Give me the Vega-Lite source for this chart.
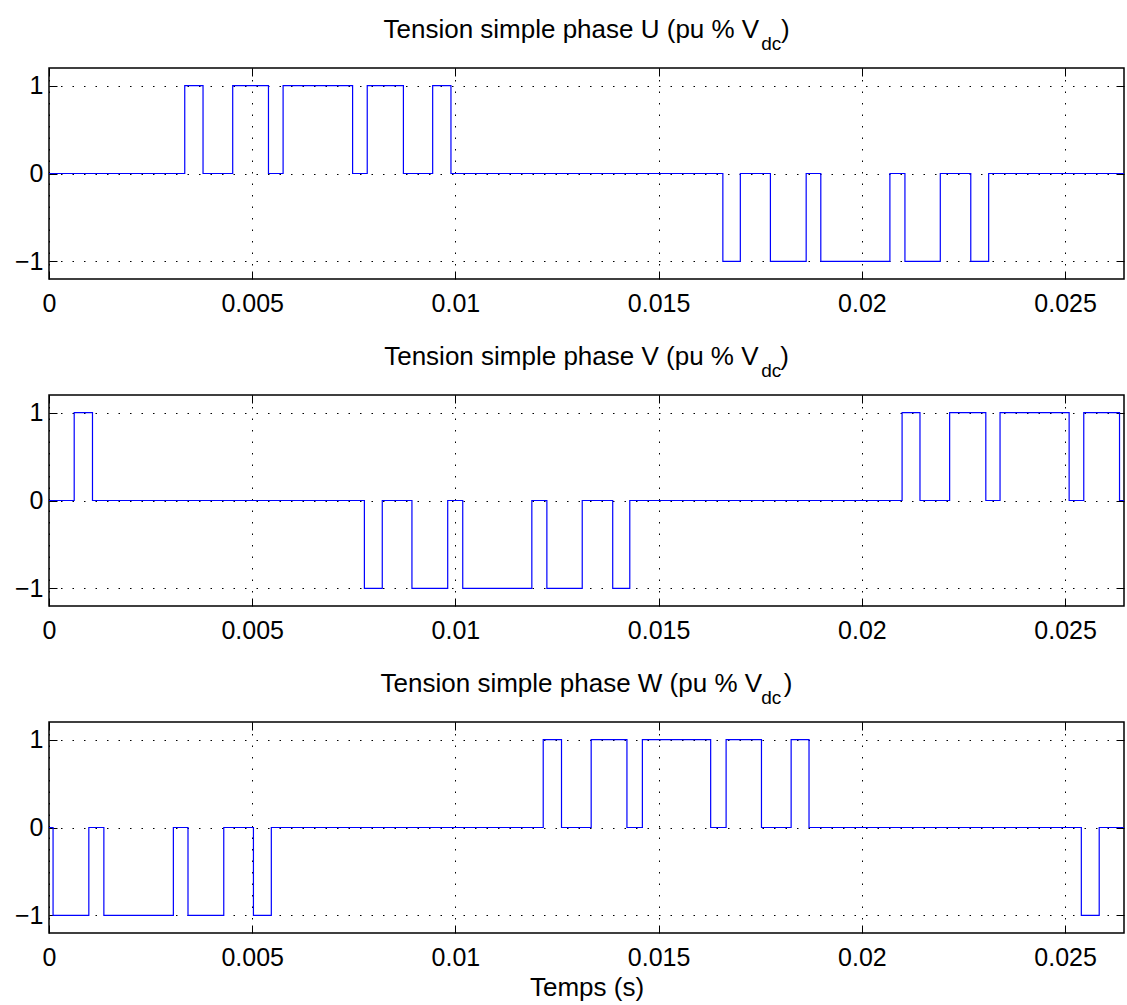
{
  "$schema": "https://vega.github.io/schema/vega-lite/v6.json",
  "background": "white",
  "padding": {"left": 13, "top": 15, "right": 5, "bottom": 5},
  "config": {
    "font": "Liberation Sans",
    "view": {"stroke": "#000", "strokeWidth": 1.5},
    "axis": {
      "domain": false,
      "tickColor": "#000",
      "tickSize": -8,
      "tickWidth": 1,
      "labelFont": "Liberation Sans",
      "labelFontSize": 25,
      "labelColor": "#000",
      "labelFlush": false,
      "labelOverlap": false,
      "gridColor": "#000",
      "gridDash": [1.5, 10],
      "gridWidth": 1,
      "gridOpacity": 1,
      "titleFont": "Liberation Sans",
      "titleFontSize": 26,
      "titleFontWeight": "normal",
      "titleColor": "#000"
    },
    "title": {
      "font": "Liberation Sans",
      "fontSize": 26,
      "fontWeight": "normal",
      "color": "#000",
      "subtitleFont": "Liberation Sans",
      "subtitleFontSize": 19,
      "subtitleColor": "#000",
      "subtitlePadding": -8,
      "frame": "group",
      "anchor": "middle",
      "offset": 14
    }
  },
  "data": {
    "values": [
      {"phase": "U", "t": 0, "v": 0},
      {"phase": "U", "t": 0.00334, "v": 1},
      {"phase": "U", "t": 0.00379, "v": 0},
      {"phase": "U", "t": 0.00452, "v": 1},
      {"phase": "U", "t": 0.0054, "v": 0},
      {"phase": "U", "t": 0.00576, "v": 1},
      {"phase": "U", "t": 0.00747, "v": 0},
      {"phase": "U", "t": 0.00783, "v": 1},
      {"phase": "U", "t": 0.00872, "v": 0},
      {"phase": "U", "t": 0.00944, "v": 1},
      {"phase": "U", "t": 0.00989, "v": 0},
      {"phase": "U", "t": 0.01658, "v": -1},
      {"phase": "U", "t": 0.01701, "v": 0},
      {"phase": "U", "t": 0.01775, "v": -1},
      {"phase": "U", "t": 0.01863, "v": 0},
      {"phase": "U", "t": 0.01899, "v": -1},
      {"phase": "U", "t": 0.02069, "v": 0},
      {"phase": "U", "t": 0.02106, "v": -1},
      {"phase": "U", "t": 0.02193, "v": 0},
      {"phase": "U", "t": 0.02268, "v": -1},
      {"phase": "U", "t": 0.02312, "v": 0},
      {"phase": "U", "t": 0.02645, "v": 0},
      {"phase": "V", "t": 0, "v": 0},
      {"phase": "V", "t": 0.00062, "v": 1},
      {"phase": "V", "t": 0.00107, "v": 0},
      {"phase": "V", "t": 0.00776, "v": -1},
      {"phase": "V", "t": 0.0082, "v": 0},
      {"phase": "V", "t": 0.00893, "v": -1},
      {"phase": "V", "t": 0.00981, "v": 0},
      {"phase": "V", "t": 0.01018, "v": -1},
      {"phase": "V", "t": 0.01188, "v": 0},
      {"phase": "V", "t": 0.01225, "v": -1},
      {"phase": "V", "t": 0.01312, "v": 0},
      {"phase": "V", "t": 0.01387, "v": -1},
      {"phase": "V", "t": 0.01429, "v": 0},
      {"phase": "V", "t": 0.02099, "v": 1},
      {"phase": "V", "t": 0.02143, "v": 0},
      {"phase": "V", "t": 0.02216, "v": 1},
      {"phase": "V", "t": 0.02305, "v": 0},
      {"phase": "V", "t": 0.0234, "v": 1},
      {"phase": "V", "t": 0.0251, "v": 0},
      {"phase": "V", "t": 0.02546, "v": 1},
      {"phase": "V", "t": 0.02634, "v": 0},
      {"phase": "V", "t": 0.02645, "v": 0},
      {"phase": "W", "t": 0, "v": 0},
      {"phase": "W", "t": 0.0001, "v": -1},
      {"phase": "W", "t": 0.00098, "v": 0},
      {"phase": "W", "t": 0.00135, "v": -1},
      {"phase": "W", "t": 0.00306, "v": 0},
      {"phase": "W", "t": 0.00342, "v": -1},
      {"phase": "W", "t": 0.0043, "v": 0},
      {"phase": "W", "t": 0.00503, "v": -1},
      {"phase": "W", "t": 0.00547, "v": 0},
      {"phase": "W", "t": 0.01216, "v": 1},
      {"phase": "W", "t": 0.01261, "v": 0},
      {"phase": "W", "t": 0.01334, "v": 1},
      {"phase": "W", "t": 0.01422, "v": 0},
      {"phase": "W", "t": 0.0146, "v": 1},
      {"phase": "W", "t": 0.01628, "v": 0},
      {"phase": "W", "t": 0.01666, "v": 1},
      {"phase": "W", "t": 0.01753, "v": 0},
      {"phase": "W", "t": 0.01826, "v": 1},
      {"phase": "W", "t": 0.0187, "v": 0},
      {"phase": "W", "t": 0.0254, "v": -1},
      {"phase": "W", "t": 0.02584, "v": 0},
      {"phase": "W", "t": 0.02645, "v": 0}
    ]
  },
  "bounds": "flush",
  "spacing": 116,
  "vconcat": [
    {
      "width": 1075,
      "height": 211,
      "title": {
        "text": "Tension simple phase U (pu % V\u00a0\u00a0\u00a0)",
        "subtitle": "\u2060\u00a0\u00a0\u00a0\u00a0\u00a0\u00a0\u00a0\u00a0\u00a0\u00a0\u00a0\u00a0\u00a0\u00a0\u00a0\u00a0\u00a0\u00a0\u00a0\u00a0\u00a0\u00a0\u00a0\u00a0\u00a0\u00a0\u00a0\u00a0\u00a0\u00a0\u00a0\u00a0\u00a0\u00a0\u00a0\u00a0\u00a0\u00a0\u00a0\u00a0\u00a0\u00a0\u00a0\u00a0\u00a0\u00a0\u00a0\u00a0\u00a0\u00a0\u00a0\u00a0\u00a0\u00a0\u00a0\u00a0\u00a0\u00a0\u00a0\u00a0\u00a0\u00a0\u00a0\u00a0\u00a0\u00a0\u00a0\u00a0\u00a0\u00a0dc"
      },
      "transform": [{"filter": "datum.phase === 'U'"}],
      "layer": [
        {
          "mark": {"type": "line", "interpolate": "step-after", "color": "#0000ff", "strokeWidth": 1.2, "clip": true},
          "encoding": {
            "x": {"field": "t", "type": "quantitative", "scale": {"domain": [0, 0.02645], "nice": false, "zero": false},
                  "axis": {"orient": "bottom", "values": [0, 0.005, 0.01, 0.015, 0.02, 0.025], "format": "~g", "grid": true, "labelPadding": 20, "title": null}},
            "y": {"field": "v", "type": "quantitative", "scale": {"domain": [-1.2, 1.2], "nice": false, "zero": false},
                  "axis": {"orient": "left", "values": [-1, 0, 1], "grid": true, "labelPadding": 14, "title": null}}
          }
        },
        {
          "mark": {"type": "line", "interpolate": "step-after", "opacity": 0},
          "encoding": {
            "x": {"field": "t", "type": "quantitative", "axis": {"orient": "top", "values": [0, 0.005, 0.01, 0.015, 0.02, 0.025], "labels": false, "grid": false, "title": null}},
            "y": {"field": "v", "type": "quantitative", "axis": {"orient": "right", "values": [-1, 0, 1], "labels": false, "grid": false, "title": null}}
          }
        }
      ],
      "resolve": {"axis": {"x": "independent", "y": "independent"}}
    },
    {
      "width": 1075,
      "height": 211,
      "title": {
        "text": "Tension simple phase V (pu % V\u00a0\u00a0\u00a0)",
        "subtitle": "\u2060\u00a0\u00a0\u00a0\u00a0\u00a0\u00a0\u00a0\u00a0\u00a0\u00a0\u00a0\u00a0\u00a0\u00a0\u00a0\u00a0\u00a0\u00a0\u00a0\u00a0\u00a0\u00a0\u00a0\u00a0\u00a0\u00a0\u00a0\u00a0\u00a0\u00a0\u00a0\u00a0\u00a0\u00a0\u00a0\u00a0\u00a0\u00a0\u00a0\u00a0\u00a0\u00a0\u00a0\u00a0\u00a0\u00a0\u00a0\u00a0\u00a0\u00a0\u00a0\u00a0\u00a0\u00a0\u00a0\u00a0\u00a0\u00a0\u00a0\u00a0\u00a0\u00a0\u00a0\u00a0\u00a0\u00a0\u00a0\u00a0\u00a0\u00a0dc"
      },
      "transform": [{"filter": "datum.phase === 'V'"}],
      "layer": [
        {
          "mark": {"type": "line", "interpolate": "step-after", "color": "#0000ff", "strokeWidth": 1.2, "clip": true},
          "encoding": {
            "x": {"field": "t", "type": "quantitative", "scale": {"domain": [0, 0.02645], "nice": false, "zero": false},
                  "axis": {"orient": "bottom", "values": [0, 0.005, 0.01, 0.015, 0.02, 0.025], "format": "~g", "grid": true, "labelPadding": 20, "title": null}},
            "y": {"field": "v", "type": "quantitative", "scale": {"domain": [-1.2, 1.2], "nice": false, "zero": false},
                  "axis": {"orient": "left", "values": [-1, 0, 1], "grid": true, "labelPadding": 14, "title": null}}
          }
        },
        {
          "mark": {"type": "line", "interpolate": "step-after", "opacity": 0},
          "encoding": {
            "x": {"field": "t", "type": "quantitative", "axis": {"orient": "top", "values": [0, 0.005, 0.01, 0.015, 0.02, 0.025], "labels": false, "grid": false, "title": null}},
            "y": {"field": "v", "type": "quantitative", "axis": {"orient": "right", "values": [-1, 0, 1], "labels": false, "grid": false, "title": null}}
          }
        }
      ],
      "resolve": {"axis": {"x": "independent", "y": "independent"}}
    },
    {
      "width": 1075,
      "height": 211,
      "title": {
        "text": "Tension simple phase W (pu % V\u00a0\u00a0\u00a0)",
        "subtitle": "\u2060\u00a0\u00a0\u00a0\u00a0\u00a0\u00a0\u00a0\u00a0\u00a0\u00a0\u00a0\u00a0\u00a0\u00a0\u00a0\u00a0\u00a0\u00a0\u00a0\u00a0\u00a0\u00a0\u00a0\u00a0\u00a0\u00a0\u00a0\u00a0\u00a0\u00a0\u00a0\u00a0\u00a0\u00a0\u00a0\u00a0\u00a0\u00a0\u00a0\u00a0\u00a0\u00a0\u00a0\u00a0\u00a0\u00a0\u00a0\u00a0\u00a0\u00a0\u00a0\u00a0\u00a0\u00a0\u00a0\u00a0\u00a0\u00a0\u00a0\u00a0\u00a0\u00a0\u00a0\u00a0\u00a0\u00a0\u00a0\u00a0\u00a0\u00a0dc"
      },
      "transform": [{"filter": "datum.phase === 'W'"}],
      "layer": [
        {
          "mark": {"type": "line", "interpolate": "step-after", "color": "#0000ff", "strokeWidth": 1.2, "clip": true},
          "encoding": {
            "x": {"field": "t", "type": "quantitative", "scale": {"domain": [0, 0.02645], "nice": false, "zero": false},
                  "axis": {"orient": "bottom", "values": [0, 0.005, 0.01, 0.015, 0.02, 0.025], "format": "~g", "grid": true, "labelPadding": 20, "title": "Temps (s)", "titlePadding": 4}},
            "y": {"field": "v", "type": "quantitative", "scale": {"domain": [-1.2, 1.2], "nice": false, "zero": false},
                  "axis": {"orient": "left", "values": [-1, 0, 1], "grid": true, "labelPadding": 14, "title": null}}
          }
        },
        {
          "mark": {"type": "line", "interpolate": "step-after", "opacity": 0},
          "encoding": {
            "x": {"field": "t", "type": "quantitative", "axis": {"orient": "top", "values": [0, 0.005, 0.01, 0.015, 0.02, 0.025], "labels": false, "grid": false, "title": null}},
            "y": {"field": "v", "type": "quantitative", "axis": {"orient": "right", "values": [-1, 0, 1], "labels": false, "grid": false, "title": null}}
          }
        }
      ],
      "resolve": {"axis": {"x": "independent", "y": "independent"}}
    }
  ]
}
